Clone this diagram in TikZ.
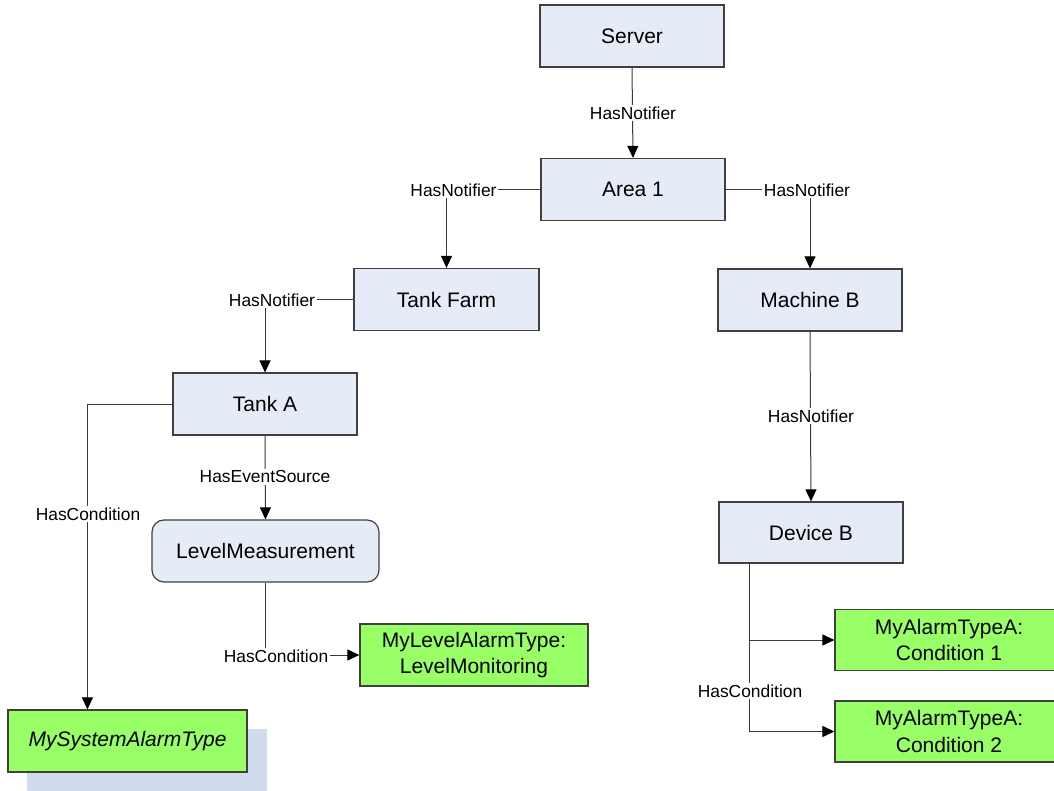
\documentclass[tikz,border=0pt]{standalone}
\usepackage{fontspec}
\setmainfont{Liberation Sans}
\usetikzlibrary{arrows.meta}
\definecolor{boxblue}{HTML}{E6ECF7}
\definecolor{boxgreen}{HTML}{99FF66}
\definecolor{shadowblue}{HTML}{D0DCEE}
\definecolor{edgegray}{HTML}{404040}
\definecolor{linegray}{HTML}{3A3A3A}
\begin{document}
\begin{tikzpicture}[x=1pt,y=-1pt,
  basebox/.style={draw=edgegray, line width=1.2pt, minimum height=62pt, inner sep=0pt,
    align=center, font=\fontsize{21}{26.5}\selectfont},
  bluebox/.style={basebox, fill=boxblue, minimum width=184pt},
  greenbox/.style={basebox, fill=boxgreen, minimum width=228pt},
  conn/.style={draw=linegray, line width=1pt, -{Triangle[length=12pt,width=11pt,color=black,fill=black]}},
  lbl/.style={fill=white, inner sep=1.5pt, font=\fontsize{17.4}{20}\selectfont}
]
\useasboundingbox (0,0) rectangle (1054,791);
% nodes
\node[bluebox] (server) at (632,36) {Server};
\node[bluebox] (area) at (633,189.5) {Area 1};
\node[bluebox, minimum width=185pt] (farm) at (446.5,299.5) {Tank Farm};
\node[bluebox] (machine) at (810,300) {Machine B};
\node[bluebox] (tanka) at (265,404) {Tank A};
\node[bluebox, minimum width=227pt, rounded corners=12pt] (level) at (265.5,551) {LevelMeasurement};
\node[bluebox, minimum height=61pt] (device) at (811,532.5) {Device B};
\node[greenbox] (lvlalarm) at (474,655) {MyLevelAlarmType:\\LevelMonitoring};
\node[greenbox, minimum height=61pt] (cond1) at (949,640) {MyAlarmTypeA:\\Condition 1};
\node[greenbox, minimum height=61pt] (cond2) at (949,731.5) {MyAlarmTypeA:\\Condition 2};
\fill[shadowblue] (27,729) rectangle (267,800);
\node[greenbox, minimum width=239pt, font=\fontsize{21}{26.5}\selectfont\itshape] (sysalarm) at (127.5,741) {MySystemAlarmType};
% helper coordinates
\coordinate (hcx) at ([xshift=80pt]sysalarm.north west);
\coordinate (trunk) at ([xshift=31pt]device.south west);
% connectors
\draw[conn] (server.south) -- (area.north);
\draw[conn] (area.west) -| (farm.north);
\draw[conn] (area.east) -| (machine.north);
\draw[conn] (farm.west) -| (tanka.north);
\draw[conn] (tanka.south) -- (level.north);
\draw[conn] (tanka.west) -| (hcx);
\draw[conn] (level.south) |- (lvlalarm.west);
\draw[conn] (machine.south) -- (device.north);
\draw[conn] (trunk) |- (cond1.west);
\draw[conn] (trunk) |- (cond2.west);
% labels
\node[lbl] (l1) at (633,113) {HasNotifier};
\node[lbl] (l2) at (453.5,190) {HasNotifier};
\node[lbl] (l3) at (807,190) {HasNotifier};
\node[lbl] (l4) at (272,300) {HasNotifier};
\node[lbl] (l5) at (265,477) {HasEventSource};
\node[lbl] (l6) at (88,514) {HasCondition};
\node[lbl] (l7) at (276,656) {HasCondition};
\node[lbl] (l8) at (811,416) {HasNotifier};
\node[lbl] (l9) at (750,691) {HasCondition};
\end{tikzpicture}
\end{document}
